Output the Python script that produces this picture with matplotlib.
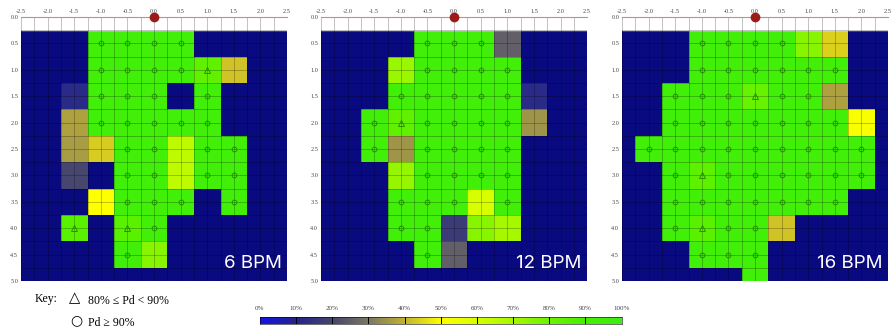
import numpy as np
import matplotlib
matplotlib.use("Agg")
import matplotlib.pyplot as plt
from matplotlib.colors import LinearSegmentedColormap

# detection probability (%) per cell, rows y = 0.5 .. 5.0, cols x = -2.0 .. 2.0
# 0 means no cell (navy background)
x_centers = [-2.0, -1.5, -1.0, -0.5, 0.0, 0.5, 1.0, 1.5, 2.0]
y_centers = [0.5, 1.0, 1.5, 2.0, 2.5, 3.0, 3.5, 4.0, 4.5, 5.0]

pd_6bpm = [
    [0, 0, 95, 95, 95, 95, 0, 0, 0],
    [0, 0, 95, 95, 95, 95, 83, 42, 0],
    [0, 12, 95, 95, 95, 0, 95, 0, 0],
    [0, 37, 95, 95, 95, 95, 95, 0, 0],
    [0, 36, 43, 95, 95, 65, 95, 95, 0],
    [0, 20, 0, 95, 95, 65, 95, 95, 0],
    [0, 0, 50, 95, 95, 95, 0, 95, 0],
    [0, 85, 0, 85, 95, 0, 0, 0, 0],
    [0, 0, 0, 95, 75, 0, 0, 0, 0],
    [0, 0, 0, 0, 0, 0, 0, 0, 0],
]
pd_12bpm = [
    [0, 0, 0, 95, 95, 95, 25, 0, 0],
    [0, 0, 72, 95, 95, 95, 95, 0, 0],
    [0, 0, 95, 95, 95, 95, 95, 12, 0],
    [0, 95, 83, 95, 95, 95, 95, 35, 0],
    [0, 95, 35, 95, 95, 95, 95, 0, 0],
    [0, 0, 73, 95, 95, 95, 95, 0, 0],
    [0, 0, 95, 95, 95, 60, 95, 0, 0],
    [0, 0, 95, 95, 17, 75, 70, 0, 0],
    [0, 0, 0, 95, 25, 0, 0, 0, 0],
    [0, 0, 0, 0, 0, 0, 0, 0, 0],
]
pd_16bpm = [
    [0, 0, 95, 95, 95, 95, 75, 44, 0],
    [0, 0, 95, 95, 95, 95, 95, 95, 0],
    [0, 95, 95, 95, 82, 95, 95, 37, 0],
    [0, 95, 95, 95, 95, 95, 95, 95, 52],
    [95, 95, 95, 95, 95, 95, 95, 95, 95],
    [0, 95, 84, 95, 95, 95, 95, 95, 95],
    [0, 95, 95, 95, 95, 95, 95, 95, 0],
    [0, 95, 85, 95, 95, 42, 0, 0, 0],
    [0, 0, 95, 95, 95, 0, 0, 0, 0],
    [0, 0, 0, 0, 95, 0, 0, 0, 0],
]
panel_titles = ["6 BPM", "12 BPM", "16 BPM"]
cbar_ticks = [0, 10, 20, 30, 40, 50, 60, 70, 80, 90, 100]

cmap = LinearSegmentedColormap.from_list("pd", [
    (0.0, "#1414e6"), (0.1, "#24248c"), (0.2, "#46466e"), (0.3, "#7c7862"),
    (0.4, "#c4b430"), (0.5, "#ffff00"), (0.6, "#d8ff00"), (0.7, "#a6f800"),
    (0.8, "#6ef200"), (0.9, "#46f000"), (1.0, "#3cee10")])
navy = "#0a0a80"
serif = ["Liberation Serif", "DejaVu Serif"]

fig = plt.figure(figsize=(8.93, 3.34), dpi=100)
lefts = [0.0235, 0.3595, 0.6965]

xe = np.arange(-2.25, 2.26, 0.5)
ye = np.arange(0.25, 5.26, 0.5)

for left, data, title in zip(lefts, [pd_6bpm, pd_12bpm, pd_16bpm], panel_titles):
    ax = fig.add_axes([left, 0.159, 0.298, 0.790])
    ax.set_facecolor(navy)
    vals = np.ma.masked_equal(np.array(data, dtype=float), 0)
    ax.pcolormesh(xe, ye, vals, cmap=cmap, vmin=0, vmax=100, zorder=1)
    ax.axhspan(0, 0.25, color="white", zorder=1)
    for v in np.arange(-2.5, 2.51, 0.25):
        ax.axvline(v, color="black", alpha=0.28, lw=0.6, zorder=2)
    for h in np.arange(0.25, 5.0, 0.25):
        ax.axhline(h, color="black", alpha=0.28, lw=0.6, zorder=2)

    # markers: circle for Pd >= 90, triangle for 80 <= Pd < 90
    arr = np.array(data)
    for i, yc in enumerate(y_centers):
        if yc >= 5.0:
            continue
        for j, xc in enumerate(x_centers):
            p = arr[i, j]
            if p >= 90:
                ax.plot(xc, yc, "o", ms=3.4, mfc="none", mec="#1e7a00", mew=0.7,
                        alpha=0.8, zorder=3)
            elif p >= 80:
                ax.plot(xc, yc, "^", ms=4, mfc="none", mec="#1e7a00", mew=0.7,
                        alpha=0.8, zorder=3)

    ax.plot(0, 0, "o", color="#9b1b1b", ms=6, clip_on=False, zorder=6)
    ax.set_xlim(-2.5, 2.5)
    ax.set_ylim(5.0, 0.0)
    ax.xaxis.tick_top()
    ax.set_xticks(np.arange(-2.5, 2.51, 0.5))
    ax.set_xticklabels(["%.1f" % t for t in np.arange(-2.5, 2.51, 0.5)])
    ax.set_yticks(np.arange(0, 5.01, 0.5))
    ax.set_yticklabels(["%.1f" % t for t in np.arange(0, 5.01, 0.5)])
    ax.tick_params(length=0, labelsize=4.5, labelcolor="#444444", pad=2)
    for lab in ax.get_xticklabels() + ax.get_yticklabels():
        lab.set_family(serif)
    for s in ["left", "right", "bottom"]:
        ax.spines[s].set_visible(False)
    ax.spines["top"].set_color("#e08080")
    ax.spines["top"].set_linewidth(0.8)
    ax.text(0.98, 0.035, title, transform=ax.transAxes, ha="right", va="bottom",
            color="white", fontsize=13.5, family="Inter", zorder=7)

# colour bar
cax = fig.add_axes([0.291, 0.030, 0.405, 0.021])
grad = np.linspace(0, 100, 256)[None, :]
cax.imshow(grad, cmap=cmap, vmin=0, vmax=100, extent=[0, 100, 0, 1], aspect="auto")
for t in cbar_ticks[1:-1]:
    cax.axvline(t, color="black", lw=0.7)
cax.xaxis.tick_top()
cax.set_xticks(cbar_ticks)
cax.set_xticklabels([f"{t}%" for t in cbar_ticks])
cax.set_yticks([])
cax.tick_params(length=0, labelsize=5, labelcolor="#444444", pad=4)
for lab in cax.get_xticklabels():
    lab.set_family(serif)
for s in cax.spines.values():
    s.set_linewidth(0.4)

# key
fig.text(0.039, 0.106, "Key:", fontsize=8.5, family=serif, va="center")
fig.text(0.077, 0.110, "\u25b3", fontsize=10.5, family="DejaVu Sans", va="center")
fig.text(0.099, 0.100, "80% \u2264 Pd < 90%", fontsize=8.5, family=serif, va="center")
fig.text(0.079, 0.040, "\u25cb", fontsize=10, family="DejaVu Sans", va="center")
fig.text(0.099, 0.032, "Pd \u2265 90%", fontsize=8.5, family=serif, va="center")

fig.savefig("out.png", dpi=100)
